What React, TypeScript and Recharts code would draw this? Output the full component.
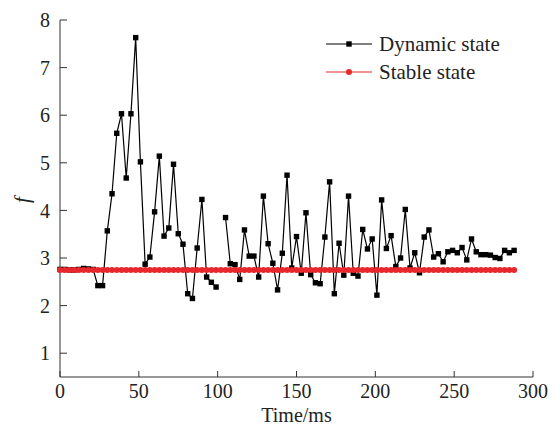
import React from "react";
import { LineChart, Line, XAxis, YAxis } from "recharts";

const times = [
  0, 3, 6, 9, 12, 15, 18, 21, 24, 27, 30, 33, 36, 39, 42, 45, 48, 51, 54, 57,
  60, 63, 66, 69, 72, 75, 78, 81, 84, 87, 90, 93, 96, 99, 102, 105, 108, 111,
  114, 117, 120, 123, 126, 129, 132, 135, 138, 141, 144, 147, 150, 153, 156,
  159, 162, 165, 168, 171, 174, 177, 180, 183, 186, 189, 192, 195, 198, 201,
  204, 207, 210, 213, 216, 219, 222, 225, 228, 231, 234, 237, 240, 243, 246,
  249, 252, 255, 258, 261, 264, 267, 270, 273, 276, 279, 282, 285, 288,
];

// null = missing sample (gap in the curve)
const dynamicF = [
  2.76, 2.76, 2.75, 2.75, 2.76, 2.78, 2.77, 2.76,
  2.42, 2.42, 3.57, 4.35, 5.62, 6.03, 4.68, 6.03, 7.63, 5.02, 2.87, 3.02,
  3.97, 5.14, 3.46, 3.63, 4.97, 3.51, 3.29, 2.25, 2.15, 3.21, 4.23, 2.6,
  2.49, 2.39,
  null,
  3.85, 2.88, 2.86, 2.55, 3.59, 3.04, 3.04, 2.6, 4.3, 3.3, 2.89, 2.33, 3.1,
  4.74, 2.79, 3.45, 2.68, 3.95, 2.65, 2.48, 2.46, 3.44, 4.6, 2.25, 3.31,
  2.64, 4.3, 2.68, 2.62, 3.6, 3.19, 3.4, 2.22, 4.22, 3.2, 3.47, 2.82, 3.0,
  4.02, 2.79, 3.11, 2.69, 3.44, 3.59, 3.02, 3.09, 2.92, 3.13, 3.16, 3.11,
  3.22, 2.96, 3.4, 3.13, 3.07, 3.07, 3.06, 3.01, 2.99, 3.16, 3.11, 3.16,
];

const stableF = [
  2.75, 2.75, 2.75, 2.75, 2.75, 2.75, 2.75, 2.75, 2.75, 2.75, 2.75, 2.75,
  2.75, 2.75, 2.75, 2.75, 2.75, 2.75, 2.75, 2.75, 2.75, 2.75, 2.75, 2.75,
  2.75, 2.75, 2.75, 2.75, 2.75, 2.75, 2.75, 2.75, 2.75, 2.75, 2.75, 2.75,
  2.75, 2.75, 2.75, 2.75, 2.75, 2.75, 2.75, 2.75, 2.75, 2.75, 2.75, 2.75,
  2.75, 2.75, 2.75, 2.75, 2.75, 2.75, 2.75, 2.75, 2.75, 2.75, 2.75, 2.75,
  2.75, 2.75, 2.75, 2.75, 2.75, 2.75, 2.75, 2.75, 2.75, 2.75, 2.75, 2.75,
  2.75, 2.75, 2.75, 2.75, 2.75, 2.75, 2.75, 2.75, 2.75, 2.75, 2.75, 2.75,
  2.75, 2.75, 2.75, 2.75, 2.75, 2.75, 2.75, 2.75, 2.75, 2.75, 2.75, 2.75,
  2.75,
];

const xTicks = [0, 50, 100, 150, 200, 250, 300];
const yTicks = [1, 2, 3, 4, 5, 6, 7, 8];

const FONT = "'Liberation Serif', 'Times New Roman', serif";
const RED = "#e8262b";

const dynamicData = times.map((t, i) => ({ t, f: dynamicF[i] }));
const stableData = times.map((t, i) => ({ t, f: stableF[i] }));

const SquareDot = (props: any) => {
  const { cx, cy, index } = props;
  if (cx == null || cy == null) return <g key={`d${index}`} />;
  return (
    <rect key={`d${index}`} x={cx - 2.7} y={cy - 2.7} width={5.4} height={5.4} fill="#000" />
  );
};

const legendItems = [
  { name: "Dynamic state", color: "#000", square: true },
  { name: "Stable state", color: RED, square: false },
];

function ChartLegend() {
  return (
    <svg
      width={190}
      height={58}
      style={{ position: "absolute", left: 326, top: 30 }}
    >
      {legendItems.map((it, i) => {
        const y = 14 + i * 28;
        return (
          <g key={it.name}>
            <line x1={0} x2={46} y1={y} y2={y} stroke={it.color} strokeWidth={1.2} />
            {it.square ? (
              <rect x={20.3} y={y - 2.7} width={5.4} height={5.4} fill={it.color} />
            ) : (
              <circle cx={23} cy={y} r={3} fill={it.color} />
            )}
            <text x={53} y={y + 7} fontFamily={FONT} fontSize={21} fill="#222">
              {it.name}
            </text>
          </g>
        );
      })}
    </svg>
  );
}

export default function App() {
  return (
    <div
      style={{
        position: "absolute",
        left: 0,
        top: 0,
        width: 555,
        height: 427,
        background: "#fff",
      }}
    >
      <LineChart
        width={555}
        height={427}
        margin={{ top: 20, right: 22, bottom: 0, left: 0 }}
      >
        <XAxis
          type="number"
          dataKey="t"
          domain={[0, 300]}
          ticks={xTicks}
          allowDuplicatedCategory={false}
          height={50}
          tickSize={-6}
          tickMargin={13}
          stroke="#333"
          tick={{ fill: "#222", fontSize: 20, fontFamily: FONT }}
          label={{
            value: "Time/ms",
            position: "insideBottom",
            offset: 5,
            fill: "#222",
            fontSize: 20,
            fontFamily: FONT,
          }}
        />
        <YAxis
          type="number"
          domain={[0.5, 8]}
          ticks={yTicks}
          width={60}
          tickSize={-7}
          tickMargin={17}
          stroke="#333"
          tick={{ fill: "#222", fontSize: 20, fontFamily: FONT }}
          label={{
            content: () => (
              <text
                x={29}
                y={200}
                transform="rotate(-90 29 200)"
                textAnchor="middle"
                fontFamily={FONT}
                fontStyle="italic"
                fontSize={21}
                fill="#222"
              >
                f
              </text>
            ),
          }}
        />
        <Line
          data={dynamicData}
          dataKey="f"
          name="Dynamic state"
          stroke="#000"
          strokeWidth={1.2}
          dot={SquareDot}
          activeDot={false}
          isAnimationActive={false}
        />
        <Line
          data={stableData}
          dataKey="f"
          name="Stable state"
          stroke={RED}
          strokeWidth={1}
          dot={{ r: 3, fill: RED, stroke: "none" }}
          activeDot={false}
          isAnimationActive={false}
        />
      </LineChart>
      <ChartLegend />
    </div>
  );
}
